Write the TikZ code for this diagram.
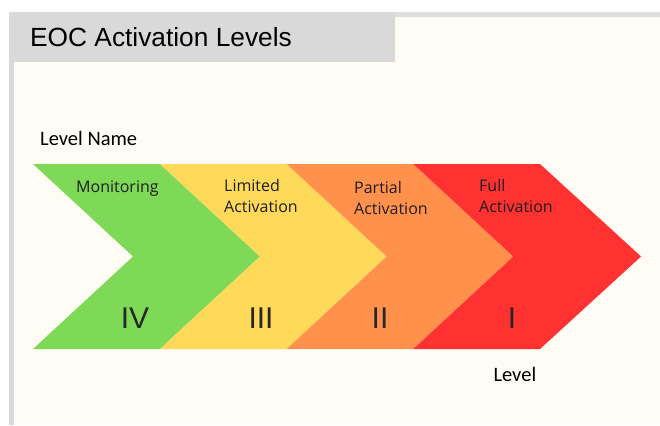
\documentclass[tikz,border=0pt]{standalone}
\usepackage{fontspec}
\setmainfont{Liberation Sans}
\newfontfamily\carlito{Carlito}
\newfontfamily\opensans{Open Sans}
\definecolor{cream}{HTML}{FEFCF4}
\definecolor{framegray}{HTML}{D9D9D9}
\definecolor{topgray}{HTML}{DEDEDE}
\definecolor{cgreen}{HTML}{7ED957}
\definecolor{cyellow}{HTML}{FFDA5A}
\definecolor{corange}{HTML}{FF914D}
\definecolor{cred}{HTML}{FF3131}
\definecolor{labeltext}{HTML}{1E1E1E}
\tikzset{
  lvlname/.style={anchor=base west, inner sep=0pt, font=\opensans\fontsize{16}{21}\selectfont, text=labeltext, align=left},
  numeral/.style={anchor=base, inner sep=0pt, font=\fontsize{30}{30}\selectfont, text=black!85},
  caption/.style={anchor=base west, inner sep=0pt, font=\carlito\fontsize{20.5}{24}\selectfont, text=black}
}
\begin{document}
\begin{tikzpicture}[x=1pt,y=-1pt]
\useasboundingbox (0,0) rectangle (660,425);
\fill[white] (0,0) rectangle (660,425);
% frame
\fill[topgray] (9,12) rectangle (660,17);
\fill[framegray] (9,12) rectangle (14,425);
\fill[cream] (14,17) rectangle (660,425);
\fill[framegray] (9,12) rectangle (395,62);
\node[anchor=base west, inner sep=0pt, font=\fontsize{26.3}{30}\selectfont] (title) at (30,46.7) {EOC Activation Levels};
% chevrons
\def\ytop{164}\def\ybot{349}\def\ymid{256.5}
\fill[cgreen]  (33,\ytop) -- (160,\ytop) -- (260,\ymid) -- (160,\ybot) -- (33,\ybot) -- (133,\ymid) -- cycle;
\fill[cyellow] (160,\ytop) -- (286.7,\ytop) -- (386.7,\ymid) -- (286.7,\ybot) -- (160,\ybot) -- (260,\ymid) -- cycle;
\fill[corange] (286.7,\ytop) -- (413.3,\ytop) -- (513.3,\ymid) -- (413.3,\ybot) -- (286.7,\ybot) -- (386.7,\ymid) -- cycle;
\fill[cred]    (413.3,\ytop) -- (540,\ytop) -- (641,\ymid) -- (540,\ybot) -- (413.3,\ybot) -- (513.3,\ymid) -- cycle;
% labels (multi-line nodes: base = last line)
\node[caption] (levelname) at (40,145.7) {Level Name};
\node[lvlname] (mon) at (76,192) {Monitoring};
\node[lvlname] (lim) at (224,212.7) {Limited\\Activation};
\node[lvlname] (par) at (354,214) {Partial\\Activation};
\node[lvlname] (ful) at (479,212.3) {Full\\Activation};
\node[numeral] (n4) at (135,328.3) {IV};
\node[numeral] (n3) at (261,328.3) {III};
\node[numeral] (n2) at (380,328.3) {II};
\node[numeral] (n1) at (512,328.3) {I};
\node[caption] (level) at (493.3,381.7) {Level};
\end{tikzpicture}
\end{document}
